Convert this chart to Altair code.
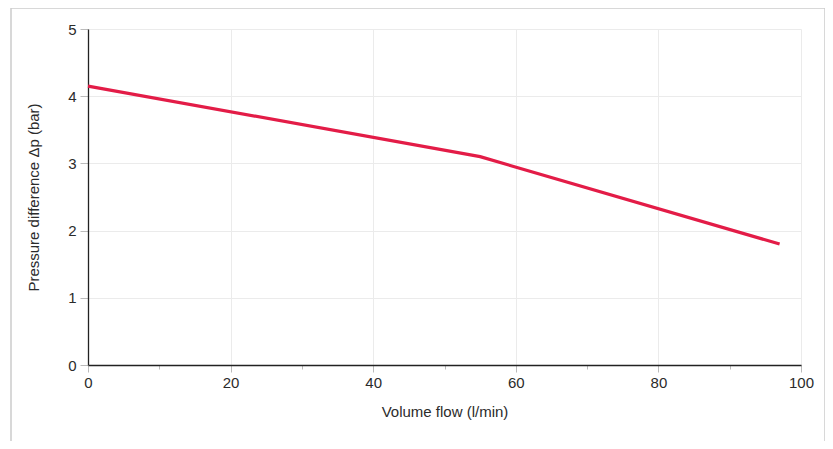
import altair as alt
import pandas as pd

flow = [0, 55, 97]
pressure = [4.15, 3.1, 1.8]

df = pd.DataFrame({"flow": flow, "pressure": pressure})
frame_df = pd.DataFrame({"k": [0]})

FONT = "Liberation Sans"

x_ticks = list(range(0, 101, 10))
y_ticks = [i / 2 for i in range(0, 11)]

line = alt.Chart(df).mark_line(color="#e31c47", strokeWidth=3.2, clip=False).encode(
    x=alt.X("flow:Q", scale=alt.Scale(domain=[0, 100], nice=False),
            axis=alt.Axis(title="Volume flow (l/min)", values=x_ticks, format="d",
                          labelFlush=False, labelFontSize=15, labelFont=FONT,
                          labelExpr="datum.value % 20 === 0 ? datum.label : ''",
                          tickSize={"condition": {"test": "datum.value % 20 === 0", "value": 7}, "value": 4},
                          gridOpacity={"condition": {"test": "datum.value % 20 === 0", "value": 1}, "value": 0},
                          labelPadding=3, titlePadding=14)),
    y=alt.Y("pressure:Q", scale=alt.Scale(domain=[0, 5], nice=False),
            axis=alt.Axis(title="Pressure difference Δp (bar)", values=y_ticks, format="d",
                          labelFlush=False, labelFontSize=15, labelFont=FONT,
                          labelExpr="datum.value % 1 === 0 ? datum.label : ''",
                          tickSize={"condition": {"test": "datum.value % 1 === 0", "value": 8}, "value": 3},
                          gridOpacity={"condition": {"test": "datum.value % 1 === 0", "value": 1}, "value": 0},
                          labelPadding=4, titlePadding=26)),
)

frame = alt.Chart(frame_df).mark_rect(fill=None, stroke="#cccccc", strokeWidth=1.5, clip=False).encode(
    x=alt.value(-77), x2=alt.value(737), y=alt.value(-21), y2=alt.value(600)
)

chart = alt.layer(frame, line).properties(
    width=713, height=336,
    autosize=alt.AutoSizeParams(type="none"),
    padding={"left": 80, "top": 21, "right": 24, "bottom": 76},
).configure_view(stroke=None).configure_axis(
    labelFont=FONT, titleFont=FONT, labelFontSize=15, titleFontSize=15,
    labelColor="#2b2b2b", titleColor="#2b2b2b", titleFontWeight="normal",
    domainColor="#222222", domainWidth=1.3, tickColor="#bbbbbb",
    gridColor="#ebebeb",
)

chart.save("out.html", embed_options={"renderer": "svg", "actions": False})
